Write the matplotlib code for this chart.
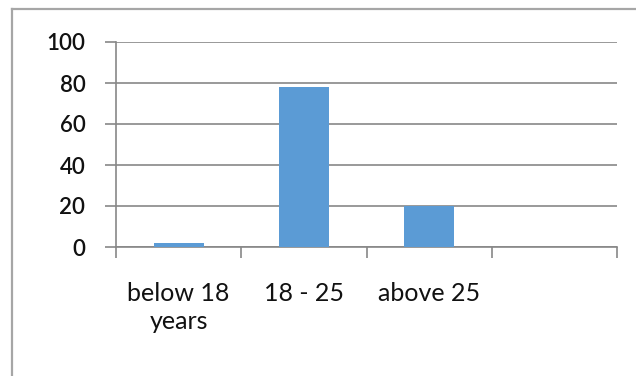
import matplotlib
matplotlib.use("Agg")
import matplotlib.pyplot as plt
from matplotlib.lines import Line2D

# age groups and share of respondents
categories = ["below 18\nyears", "18 - 25", "above 25", ""]
values = [2, 78, 20, 0]
y_ticks = [0, 20, 40, 60, 80, 100]

plt.rcParams["font.family"] = ["Lato", "DejaVu Sans"]

W, H = 636, 376
fig = plt.figure(figsize=(W / 100, H / 100), dpi=100)
fig.patch.set_facecolor("white")

# plot area placed in pixel terms
left, right, top, bottom = 116, 617, 42, 247
ax = fig.add_axes([left / W, 1 - bottom / H, (right - left) / W, (bottom - top) / H])

grey = "#878787"
ink = "#111111"
x = list(range(len(categories)))
ax.bar(x[:3], values[:3], width=0.4, color="#5B9BD5", zorder=3)

ax.set_xlim(-0.5, len(categories) - 0.5)
ax.set_ylim(0, 100)
ax.set_yticks(y_ticks)
ax.set_yticklabels([str(t) for t in y_ticks], fontweight="semibold")
ax.yaxis.grid(True, color=grey, linewidth=1.2)
ax.set_axisbelow(True)

# category boundaries get the tick marks, labels sit in between
ax.set_xticks([i - 0.5 for i in range(len(categories) + 1)])
ax.set_xticklabels([])
ax.set_xticks(x, minor=True)
ax.set_xticklabels(categories, minor=True, linespacing=1.3)

for s in ["top", "right"]:
    ax.spines[s].set_visible(False)
for s in ["left", "bottom"]:
    ax.spines[s].set_color(grey)
    ax.spines[s].set_linewidth(1.2)

ax.tick_params(axis="y", length=8, width=1.2, color=grey, pad=14,
               labelsize=16, labelcolor=ink)
ax.tick_params(axis="x", which="major", length=8, width=1.2, color=grey)
ax.tick_params(axis="x", which="minor", length=0, pad=25,
               labelsize=18, labelcolor=ink)

# outer chart frame
frame = "#a6a6a6"
fig.add_artist(Line2D([12 / W, 1.0], [1 - 9 / H, 1 - 9 / H], color=frame, linewidth=1.6))
fig.add_artist(Line2D([12 / W, 12 / W], [0.0, 1 - 9 / H], color=frame, linewidth=1.6))

fig.savefig("out.png", dpi=100)
